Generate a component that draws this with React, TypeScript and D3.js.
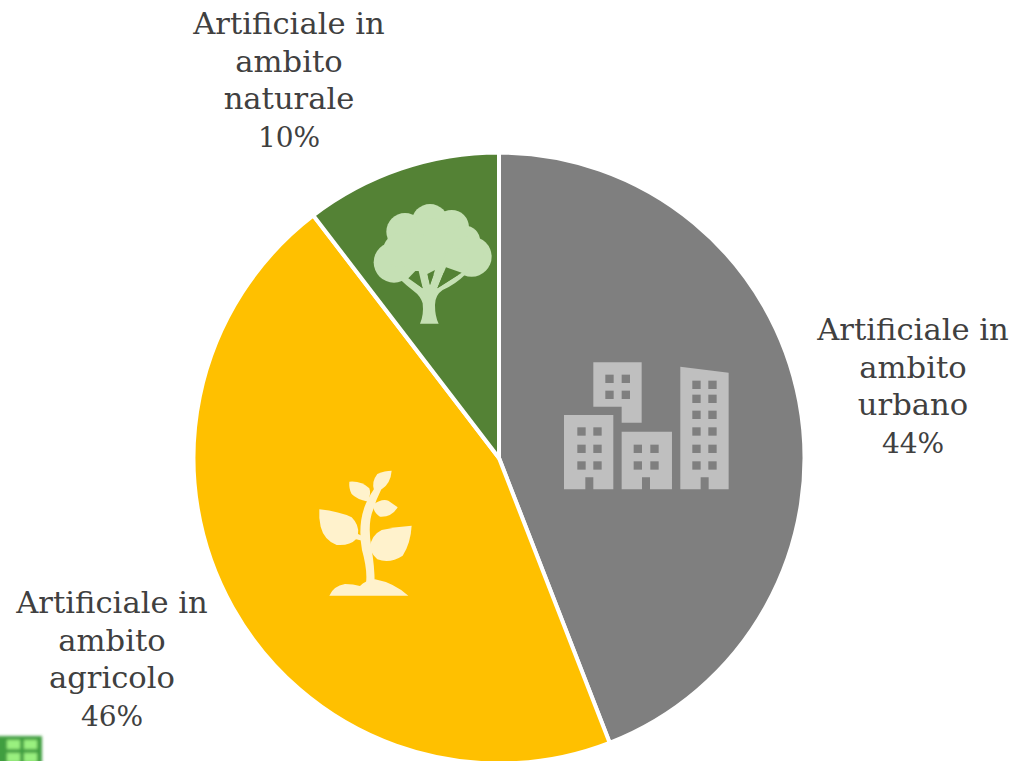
import React from "react";
import * as d3 from "d3";

const WIDTH = 1015;
const HEIGHT = 761;

const CATEGORIES = ["urbano", "agricolo", "naturale"];
const VALUES = [44.1, 45.5, 10.4];
const PERCENT_LABELS = ["44%", "46%", "10%"];
const COLORS = ["#7f7f7f", "#ffc000", "#548235"];

// label block anchor (centre x, first baseline y), same order as the categories
const LABEL_X = [913, 112, 289];
const LABEL_Y = [340, 613, 34];
const LINE_HEIGHT = 37.6;

const CENTER_X = 499;
const CENTER_Y = 458;
const RADIUS = 305.5;

// icons are traced in 3x crop coordinates, hence the scale(1/3)
function CityIcon() {
  const windows = [
    [112, 262], [160, 262], [112, 314], [160, 314], [112, 364], [160, 364],
    [196, 104], [245, 104], [196, 152], [245, 152],
    [281, 314], [331, 314], [281, 364], [331, 364],
    [457, 122], [505, 122], [457, 164], [505, 164], [457, 212], [505, 212],
    [457, 262], [505, 262], [457, 314], [505, 314], [457, 364], [505, 364],
  ];
  return (
    <g transform="translate(540,340) scale(0.3333)" fill="#bfbfbf">
      <path d="M72 225H220V448H160V412H136V448H72Z" />
      <path d="M160 67H305V248H245V200H160Z" />
      <path d="M245 275H396V448H330V412H306V448H245Z" />
      <path d="M421 80L566 98V448H506V412H482V448H421Z" />
      {windows.map((d, i) => (
        <rect key={i} x={d[0]} y={d[1]} width={25} height={25} fill="#7f7f7f" />
      ))}
    </g>
  );
}

function TreeIcon() {
  const crown = [
    [240, 97, 55], [165, 125, 56], [305, 112, 52], [345, 152, 45],
    [132, 217, 61], [365, 200, 60], [240, 170, 85], [190, 200, 72], [300, 190, 62],
    [150, 180, 50], [350, 190, 50], [320, 215, 40],
  ];
  return (
    <g transform="translate(350,190) scale(0.3333)" fill="#c5e0b4">
      {crown.map((d, i) => (
        <circle key={i} cx={d[0]} cy={d[1]} r={d[2]} />
      ))}
      <path d="M150 268L175 262L218 295L200 240L232 250L240 285L258 235L288 232L262 295L335 248L350 250Q315 285 278 300Q255 315 255 345Q255 380 266 401H210Q222 375 218 340Q212 318 190 302Q170 288 150 268Z" />
      <path d="M175 265L196 243L206 243L218 295Z" fill="#548235" />
      <path d="M232 252L255 240L240 285Z" fill="#548235" />
      <path d="M288 232L335 248L262 295Z" fill="#548235" />
    </g>
  );
}

function PlantIcon() {
  return (
    <g transform="translate(300,460) scale(0.3333)" fill="#fff2cc">
      <path d="M88 407Q100 378 135 372Q160 372 180 378Q195 362 225 358Q280 368 325 407Z" />
      <path d="M198 370Q203 330 186 270Q172 190 198 130Q212 100 228 78L244 88Q228 120 220 148Q202 190 214 262Q224 320 224 370Z" />
      <path d="M58 148Q120 155 155 172Q178 195 174 222L195 232L190 243L168 238Q150 258 110 255Q72 240 62 200Q56 175 58 148Z" />
      <path d="M335 197Q332 250 308 287Q270 312 232 298Q214 282 210 262Q214 225 245 210Q290 200 335 197Z" />
      <path d="M148 65Q185 62 208 85Q214 100 204 125Q170 118 155 102Q146 85 148 65Z" />
      <path d="M275 32Q272 70 245 88L222 90Q214 65 232 42Q255 32 275 32Z" />
      <path d="M218 135Q245 115 265 122L293 142Q275 172 240 170Q222 160 218 135Z" />
    </g>
  );
}

export default function App() {
  const pie = d3
    .pie<number>()
    .sort(null)
    .value((d) => d);
  const arc = d3.arc<d3.PieArcDatum<number>>().innerRadius(0).outerRadius(RADIUS);
  const slices = pie(VALUES);

  return (
    <svg
      width={WIDTH}
      height={HEIGHT}
      style={{ position: "absolute", left: 0, top: 0, background: "#fff" }}
    >
      <defs>
        <filter id="soft" x="-40%" y="-40%" width="180%" height="180%">
          <feGaussianBlur stdDeviation="1.6" />
        </filter>
      </defs>
      <g transform={`translate(${CENTER_X},${CENTER_Y})`}>
        {slices.map((s, i) => (
          <path key={i} d={arc(s) as string} fill={COLORS[i]} stroke="#fff" strokeWidth={4} />
        ))}
      </g>
      <CityIcon />
      <TreeIcon />
      <PlantIcon />
      {CATEGORIES.map((c, i) => {
        const lines = ["Artificiale in", "ambito", c, PERCENT_LABELS[i]];
        return (
          <text
            key={c}
            textAnchor="middle"
            fontFamily="'DejaVu Serif', serif"
            fontSize={30.6}
            fill="#404040"
          >
            {lines.map((t, j) => (
              <tspan
                key={j}
                x={LABEL_X[i]}
                y={LABEL_Y[i] + j * LINE_HEIGHT}
                fontSize={j === 3 ? 28 : undefined}
              >
                {t}
              </tspan>
            ))}
          </text>
        );
      })}
      {/* clipped spreadsheet icon in the bottom corner of the source image */}
      <g filter="url(#soft)">
        <rect x={-4} y={736} width={46} height={30} fill="#3f9e3f" />
        <rect x={7} y={740} width={13} height={9} fill="#9af07f" />
        <rect x={24} y={740} width={13} height={9} fill="#9af07f" />
        <rect x={7} y={753} width={13} height={9} fill="#9af07f" />
        <rect x={24} y={753} width={13} height={9} fill="#9af07f" />
      </g>
    </svg>
  );
}
